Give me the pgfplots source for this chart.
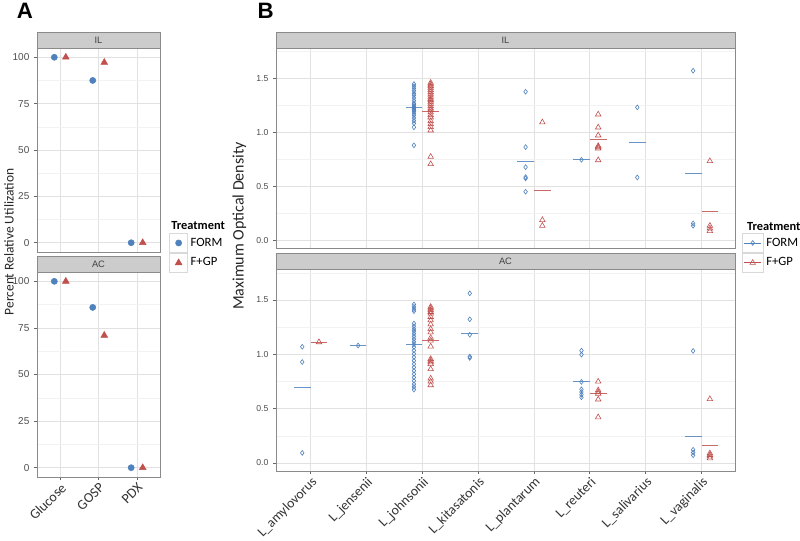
\documentclass[border=0pt]{standalone}
\usepackage{fontspec}
\setmainfont{Liberation Sans}
\newfontfamily\carl{Carlito}
\usepackage{pgfplots}
\pgfplotsset{compat=1.18}
\definecolor{cF}{HTML}{4F81BD}
\definecolor{cG}{HTML}{C0504D}
\definecolor{gridmaj}{HTML}{E1E1E1}
\definecolor{gridmin}{HTML}{F2F2F2}
\definecolor{frame}{HTML}{8A8A8A}
\definecolor{stripfill}{HTML}{CCCCCC}
\definecolor{ticktext}{HTML}{4D4D4D}

\newcommand\strip[1]{%
  \draw[fill=stripfill, draw=frame, line width=0.6pt] (rel axis cs:0,1) rectangle ([yshift=12pt]rel axis cs:1,1);
  \node[font=\fontsize{7}{8}\selectfont, text=black!75] at ([yshift=6pt]rel axis cs:0.5,1) {#1};}

\pgfplotsset{
  panel/.style={
    scale only axis, anchor=south west, clip=false,
    axis line style={draw=frame, line width=0.6pt},
    xtick pos=bottom, ytick pos=left,
    tick align=outside, major tick length=2.2pt, minor tick length=0pt,
    tick style={draw=black!60, line width=0.5pt},
    xmajorgrids, ymajorgrids, yminorgrids,
    major grid style={draw=gridmaj, line width=0.6pt},
    minor grid style={draw=gridmin, line width=0.4pt},
    /pgf/number format/assume math mode=true,
    yticklabel style={text=ticktext},
    xticklabel style={text=black!80, rotate=45, anchor=north east, inner sep=1pt},
    legend cell align=left,
    legend style={draw=none, fill=none, inner sep=0pt, outer sep=0pt, row sep=0pt, column sep=2pt,
      nodes={inner sep=0pt, font=\carl\fontsize{9.5}{11}\selectfont}},
  },
  panelA/.style={panel, width=92.25pt, xmin=0.4, xmax=3.6, ymin=-5, ymax=105,
    xtick={1,2,3}, ytick={0,25,50,75,100}, minor ytick={12.5,37.5,62.5,87.5},
    yticklabel style={font=\fontsize{7.5}{9}\selectfont},
    xticklabel style={font=\carl\fontsize{10.5}{12}\selectfont},
    legend image code/.code={
      \draw[draw=gray!30, fill=white, line width=0.5pt, mark=none, solid] (-6.75pt,-7.2pt) rectangle (6.75pt,7.2pt);
      \draw plot coordinates {(0pt,0pt)};}},
  panelB/.style={panel, width=344.25pt, xmin=0.38, xmax=8.6, ymin=-0.074, ymax=1.785,
    xtick={1,...,8}, ytick={0,0.5,1,1.5}, minor ytick={0.25,0.75,1.25,1.75},
    unbounded coords=jump,
    yticklabel style={font=\fontsize{6.5}{8}\selectfont, /pgf/number format/.cd, fixed, fixed zerofill, precision=1},
    xticklabel style={font=\carl\fontsize{10.3}{12}\selectfont},
    legend image code/.code={
      \draw[draw=gray!30, fill=white, line width=0.5pt, mark=none, solid] (-8pt,-7.2pt) rectangle (8pt,7.2pt);
      \draw[mark=none] (-6.5pt,0pt) -- (6.5pt,0pt);
      \draw[only marks] plot coordinates {(0pt,0pt)};}},
  FA/.style={only marks, mark=*, color=cF, mark size=2.3pt},
  GA/.style={only marks, mark=triangle*, color=cG, mark size=2.9pt},
  FB/.style={only marks, mark=diamond, color=cF, mark size=1.8pt, mark options={line width=0.45pt}},
  GB/.style={only marks, mark=triangle, color=cG, mark size=2.4pt, mark options={line width=0.45pt}},
  FM/.style={color=cF, line width=0.75pt, opacity=0.85, mark=none, forget plot},
  GM/.style={color=cG, line width=0.75pt, opacity=0.85, mark=none, forget plot},
}

\begin{document}
\begin{tikzpicture}
\path[use as bounding box] (0,0) rectangle (600pt,405pt);

% ---------- Panel A, IL ----------
\begin{axis}[panelA, at={(27.75pt,216pt)}, height=153pt,
  xticklabels={}, xtick style={draw=none},
  legend style={at={(axis description cs:1.0756,0.093)}, anchor=north west}]
\addplot[FA] coordinates {(0.85,100) (1.85,87.5) (2.85,0)};
\addplot[GA] coordinates {(1.15,100) (2.15,97.2) (3.15,0)};
\legend{FORM,F+GP}
\strip{IL}
\node[anchor=base west, font=\carl\bfseries\fontsize{9.3}{11}\selectfont] at (axis description cs:1.0545,0.108) {Treatment};
\end{axis}

% ---------- Panel A, AC ----------
\begin{axis}[panelA, at={(27.75pt,47.25pt)}, height=153.75pt,
  xticklabels={Glucose,GOSP,PDX}]
\addplot[FA] coordinates {(0.85,100) (1.85,86) (2.85,0)};
\addplot[GA] coordinates {(1.15,100) (2.15,71) (3.15,0)};
\strip{AC}
\end{axis}

% ---------- Panel B, IL ----------
\begin{axis}[panelB, at={(207pt,219pt)}, height=150pt,
  xticklabels={}, xtick style={draw=none},
  legend style={at={(axis description cs:1.0146,0.075)}, anchor=north west}]
\addlegendimage{FB, only marks=false, line width=0.6pt}
\addlegendentry{FORM}
\addlegendimage{GB, only marks=false, line width=0.6pt}
\addlegendentry{F+GP}
\addplot[FB, forget plot] coordinates {
 (2.85,1.450) (2.85,1.430) (2.85,1.410) (2.85,1.388) (2.85,1.363) (2.85,1.345) (2.85,1.320) (2.85,1.295)
 (2.85,1.270) (2.85,1.260) (2.85,1.245) (2.85,1.233) (2.85,1.225) (2.85,1.215) (2.85,1.205) (2.85,1.196)
 (2.85,1.178) (2.85,1.159) (2.85,1.134) (2.85,1.109) (2.85,1.085) (2.85,1.048) (2.85,0.880)
 (4.85,1.378) (4.85,0.864) (4.85,0.678) (4.85,0.585) (4.85,0.573) (4.85,0.449)
 (5.85,0.746)
 (6.85,1.233) (6.85,0.582)
 (7.85,1.574) (7.85,0.155) (7.85,0.133)};
\addplot[GB, forget plot] coordinates {
 (3.15,1.462) (3.15,1.447) (3.15,1.431) (3.15,1.416) (3.15,1.394) (3.15,1.375) (3.15,1.354) (3.15,1.332)
 (3.15,1.313) (3.15,1.301) (3.15,1.285) (3.15,1.267) (3.15,1.245) (3.15,1.224) (3.15,1.208) (3.15,1.187)
 (3.15,1.162) (3.15,1.140) (3.15,1.106) (3.15,1.078) (3.15,1.050) (3.15,1.019) (3.15,0.774) (3.15,0.706)
 (5.15,1.094) (5.15,0.186) (5.15,0.133)
 (6.15,1.168) (6.15,1.047) (6.15,0.973) (6.15,0.874) (6.15,0.863) (6.15,0.852) (6.15,0.743)
 (8.15,0.734) (8.15,0.133) (8.15,0.108) (8.15,0.084)};
\addplot[FM] coordinates {(2.7,1.233) (3,1.233) (3,nan) (4.7,0.731) (5,0.731) (5,nan)
 (5.7,0.746) (6,0.746) (6,nan) (6.7,0.908) (7,0.908) (7,nan) (7.7,0.620) (8,0.620)};
\addplot[GM] coordinates {(3,1.196) (3.3,1.196) (3.3,nan) (5,0.462) (5.3,0.462) (5.3,nan)
 (6,0.935) (6.3,0.935) (6.3,nan) (8,0.267) (8.3,0.267)};
\strip{IL}
\node[anchor=base west, font=\carl\bfseries\fontsize{9.3}{11}\selectfont] at (axis description cs:1.016,0.09) {Treatment};
\end{axis}

% ---------- Panel B, AC ----------
\begin{axis}[panelB, at={(207pt,51.75pt)}, height=151.5pt,
  xticklabels={L\_amylovorus,L\_jensenii,L\_johnsonii,L\_kitasatonis,L\_plantarum,L\_reuteri,L\_salivarius,L\_vaginalis}]
\addplot[FB] coordinates {
 (0.85,1.069) (0.85,0.929) (0.85,0.093)
 (1.85,1.081)
 (2.85,1.459) (2.85,1.437) (2.85,1.415) (2.85,1.397) (2.85,1.283) (2.85,1.258) (2.85,1.233) (2.85,1.214)
 (2.85,1.190) (2.85,1.165) (2.85,1.140) (2.85,1.115) (2.85,1.091) (2.85,1.066) (2.85,1.035) (2.85,1.004)
 (2.85,0.973) (2.85,0.942) (2.85,0.911) (2.85,0.880) (2.85,0.849) (2.85,0.818) (2.85,0.787) (2.85,0.756)
 (2.85,0.725) (2.85,0.700) (2.85,0.675)
 (3.85,1.561) (3.85,1.322) (3.85,1.180) (3.85,0.979) (3.85,0.967)
 (5.85,1.034) (5.85,0.997) (5.85,0.746) (5.85,0.678) (5.85,0.653) (5.85,0.628) (5.85,0.604)
 (7.85,1.031) (7.85,0.121) (7.85,0.096) (7.85,0.071)};
\addplot[GB] coordinates {
 (1.15,1.112)
 (3.15,1.437) (3.15,1.422) (3.15,1.406) (3.15,1.390) (3.15,1.375) (3.15,1.344) (3.15,1.313) (3.15,1.276)
 (3.15,1.233) (3.15,1.202) (3.15,1.152) (3.15,1.127) (3.15,1.072) (3.15,0.957) (3.15,0.941) (3.15,0.926)
 (3.15,0.911) (3.15,0.864) (3.15,0.777) (3.15,0.749) (3.15,0.716)
 (6.15,0.749) (6.15,0.669) (6.15,0.653) (6.15,0.638) (6.15,0.585) (6.15,0.421)
 (8.15,0.588) (8.15,0.089) (8.15,0.074) (8.15,0.059) (8.15,0.043)};
\addplot[FM] coordinates {(0.7,0.693) (1,0.693) (1,nan) (1.7,1.081) (2,1.081) (2,nan)
 (2.7,1.087) (3,1.087) (3,nan) (3.7,1.195) (4,1.195) (4,nan)
 (5.7,0.746) (6,0.746) (6,nan) (7.7,0.242) (8,0.242)};
\addplot[GM] coordinates {(1,1.112) (1.3,1.112) (1.3,nan) (3,1.127) (3.3,1.127) (3.3,nan)
 (6,0.638) (6.3,0.638) (6.3,nan) (8,0.161) (8.3,0.161)};
\strip{AC}
\end{axis}

% ---------- labels ----------
\node[rotate=90, font=\carl\fontsize{10.1}{12}\selectfont, text=black!85] at (6.75pt,223.5pt) {Percent Relative Utilization};
\node[rotate=90, font=\carl\fontsize{12}{14}\selectfont, text=black!85] at (179.5pt,235.5pt) {Maximum Optical Density};
\node[anchor=base west, font=\bfseries\fontsize{16.7}{19}\selectfont, inner sep=0pt] at (12.5pt,391pt) {A};
\node[anchor=base west, font=\bfseries\fontsize{16.7}{19}\selectfont, inner sep=0pt] at (193pt,391pt) {B};
\end{tikzpicture}
\end{document}
